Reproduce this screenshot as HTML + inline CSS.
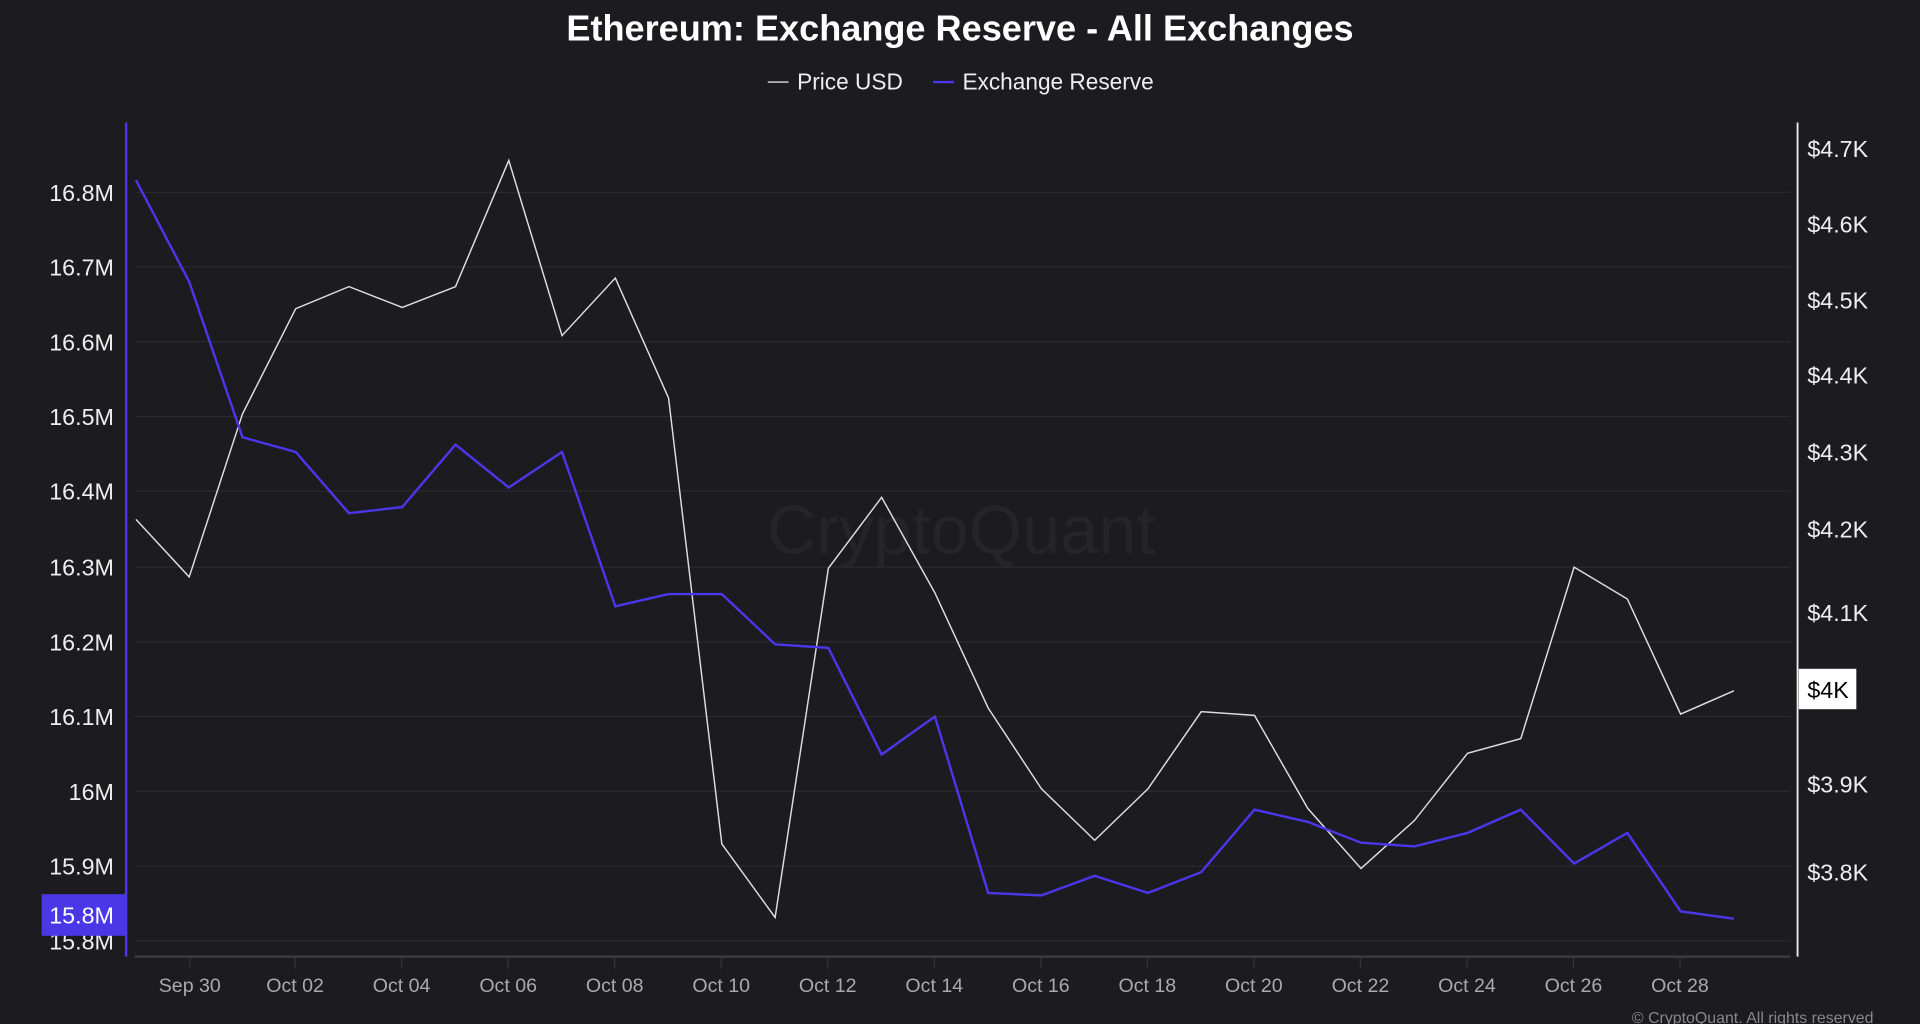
<!DOCTYPE html>
<html><head><meta charset="utf-8"><style>
html,body{margin:0;padding:0;background:#1b1b20;}
svg{display:block;font-family:"Liberation Sans",sans-serif;}
</style></head><body>
<svg width="1920" height="1024" viewBox="0 0 1568 836" preserveAspectRatio="none">
<rect width="1568" height="836" fill="#1b1b20"/>
<text x="784" y="33" fill="#fff" font-size="29.5" font-weight="bold" text-anchor="middle">Ethereum: Exchange Reserve - All Exchanges</text>
<line x1="627" y1="67" x2="644" y2="67" stroke="#ddd" stroke-width="1.2"/>
<text x="651" y="73" fill="#eee" font-size="18.5">Price USD</text>
<line x1="762" y1="67" x2="779" y2="67" stroke="#4b36e8" stroke-width="2"/>
<text x="786" y="73" fill="#eee" font-size="18.5">Exchange Reserve</text>
<text x="785" y="452" fill="#242429" font-size="56" text-anchor="middle">CryptoQuant</text>
<g stroke="#2a2a30" stroke-width="1">
<line x1="110" x2="1462" y1="157" y2="157"/><line x1="110" x2="1462" y1="218" y2="218"/><line x1="110" x2="1462" y1="279" y2="279"/><line x1="110" x2="1462" y1="340" y2="340"/><line x1="110" x2="1462" y1="401" y2="401"/><line x1="110" x2="1462" y1="463" y2="463"/><line x1="110" x2="1462" y1="524" y2="524"/><line x1="110" x2="1462" y1="585" y2="585"/><line x1="110" x2="1462" y1="646" y2="646"/><line x1="110" x2="1462" y1="707" y2="707"/><line x1="110" x2="1462" y1="768" y2="768"/>
</g>
<line x1="110" x2="1462" y1="781" y2="781" stroke="#3a3a40" stroke-width="2"/>
<line x1="103" x2="103" y1="100" y2="781" stroke="#4b36e8" stroke-width="2"/>
<line x1="1468" x2="1468" y1="100" y2="781" stroke="#eee" stroke-width="1.5"/>
<g fill="#eee" font-size="19" text-anchor="end">
<text x="93" y="164">16.8M</text><text x="93" y="225">16.7M</text><text x="93" y="286">16.6M</text><text x="93" y="347">16.5M</text><text x="93" y="408">16.4M</text><text x="93" y="470">16.3M</text><text x="93" y="531">16.2M</text><text x="93" y="592">16.1M</text><text x="93" y="653">16M</text><text x="93" y="714">15.9M</text><text x="93" y="775">15.8M</text>
</g>
<rect x="34" y="730" width="69" height="34" fill="#4b36e8"/>
<text x="93" y="754" fill="#fff" font-size="19" text-anchor="end">15.8M</text>
<g fill="#eee" font-size="19">
<text x="1476" y="128">$4.7K</text><text x="1476" y="190">$4.6K</text><text x="1476" y="252">$4.5K</text><text x="1476" y="313">$4.4K</text><text x="1476" y="376">$4.3K</text><text x="1476" y="439">$4.2K</text><text x="1476" y="507">$4.1K</text><text x="1476" y="647">$3.9K</text><text x="1476" y="719">$3.8K</text>
</g>
<rect x="1469" y="546" width="47" height="33" fill="#fff"/>
<text x="1476" y="570" fill="#000" font-size="19">$4K</text>
<g stroke="#333339">
<line x1="155" x2="155" y1="782" y2="791"/><line x1="241" x2="241" y1="782" y2="791"/><line x1="328" x2="328" y1="782" y2="791"/><line x1="415" x2="415" y1="782" y2="791"/><line x1="502" x2="502" y1="782" y2="791"/><line x1="589" x2="589" y1="782" y2="791"/><line x1="676" x2="676" y1="782" y2="791"/><line x1="763" x2="763" y1="782" y2="791"/><line x1="850" x2="850" y1="782" y2="791"/><line x1="937" x2="937" y1="782" y2="791"/><line x1="1024" x2="1024" y1="782" y2="791"/><line x1="1111" x2="1111" y1="782" y2="791"/><line x1="1198" x2="1198" y1="782" y2="791"/><line x1="1285" x2="1285" y1="782" y2="791"/><line x1="1372" x2="1372" y1="782" y2="791"/>
</g>
<g fill="#aaa" font-size="16" text-anchor="middle">
<text x="155" y="810">Sep 30</text><text x="241" y="810">Oct 02</text><text x="328" y="810">Oct 04</text><text x="415" y="810">Oct 06</text><text x="502" y="810">Oct 08</text><text x="589" y="810">Oct 10</text><text x="676" y="810">Oct 12</text><text x="763" y="810">Oct 14</text><text x="850" y="810">Oct 16</text><text x="937" y="810">Oct 18</text><text x="1024" y="810">Oct 20</text><text x="1111" y="810">Oct 22</text><text x="1198" y="810">Oct 24</text><text x="1285" y="810">Oct 26</text><text x="1372" y="810">Oct 28</text>
</g>
<polyline fill="none" stroke="#ddd" stroke-width="1.2" points="111,424 154.5,471 198,338 241.5,252 285,234 328.5,251 372,234 415.5,131 459,274 502.5,227 546,325 589.5,689 633,749 676.5,464 720,406 763.5,484 807,578 850.5,644 894,686 937.5,644 981,581 1024.5,584 1068,660 1111.5,709 1155,670 1198.5,615 1242,603 1285.5,463 1329,489 1372.5,583 1416,564"/>
<polyline fill="none" stroke="#4b36e8" stroke-width="2" points="111,147 154.5,230 198,357 241.5,369 285,419 328.5,414 372,363 415.5,398 459,369 502.5,495 546,485 589.5,485 633,526 676.5,529 720,616 763.5,585 807,729 850.5,731 894,715 937.5,729 981,712 1024.5,661 1068,671 1111.5,688 1155,691 1198.5,680 1242,661 1285.5,705 1329,680 1372.5,744 1416,750"/>
<text x="1530" y="835" fill="#888" font-size="13" text-anchor="end">© CryptoQuant. All rights reserved</text>
</svg>
</body></html>
